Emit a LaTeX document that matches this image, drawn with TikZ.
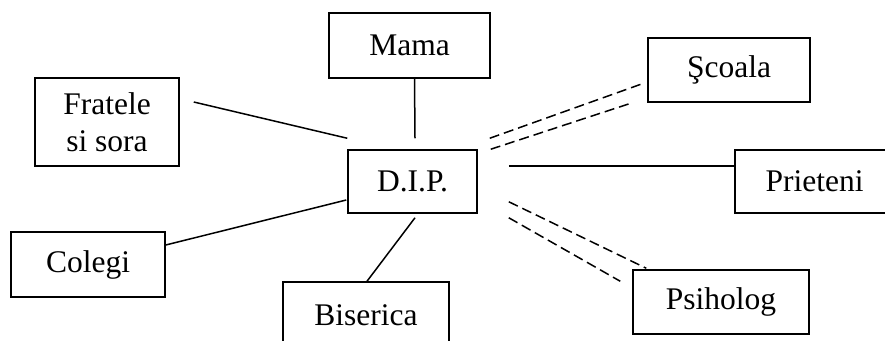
\documentclass[tikz,border=0pt]{standalone}
\usepackage{fontspec}
\setmainfont{Liberation Serif}
\usepackage{tikz}
\usetikzlibrary{calc}

\begin{document}
\begin{tikzpicture}[x=1pt,y=-1pt,
    box/.style={draw, line width=1.5pt, inner sep=0pt, align=center,
      font=\fontsize{31.5}{37}\selectfont},
    link/.style={line width=1.5pt},
    dlink/.style={line width=1.5pt, dash pattern=on 10pt off 5pt}]
      \useasboundingbox (0,0) rectangle (885,340);
      \clip (0,0) rectangle (885,340);
      \node[box, minimum width=144pt, minimum height=88pt] (fratele) at (107,122) {Fratele\\si sora};
      \node[box, minimum width=161pt, minimum height=65pt] (mama) at (409.5,45.5) {Mama};
      \node[box, minimum width=129pt, minimum height=63pt] (dip) at (412.5,181.5) {D.I.P.};
      \node[box, minimum width=162pt, minimum height=64pt] (scoala) at (729,70) {Şcoala};
      \node[box, minimum width=159pt, minimum height=63pt] (prieteni) at (814.5,181.5) {Prieteni};
      \node[box, minimum width=176pt, minimum height=64pt] (psiholog) at (721,302) {Psiholog};
      \node[box, minimum width=154pt, minimum height=65pt] (colegi) at (88,264.5) {Colegi};
      \node[box, minimum width=166pt, minimum height=66pt] (biserica) at (366,315) {Biserica};
      % solid links
      \draw[link] ([shift={(14,-20)}]fratele.east) -- ([shift={(0,-11)}]dip.north west);
      \draw[link] ([shift={(5,0)}]mama.south) -- ([shift={(2.5,-11)}]dip.north);
      \draw[link] ([shift={(31,-15.5)}]dip.east) -- ([shift={(0,-15.5)}]prieteni.west);
      \draw[link] ([shift={(0,-19.5)}]colegi.east) -- ([shift={(-1,18.5)}]dip.west);
      \draw[link] ([shift={(2.5,4)}]dip.south) -- ([shift={(1,0)}]biserica.north);
      % dashed double links
      \draw[dlink] ([shift={(12,-11)}]dip.north east) -- ([shift={(-5,-19)}]scoala.south west);
      \draw[dlink] ([shift={(13,0)}]dip.north east) -- ([shift={(-18,1)}]scoala.south west);
      \draw[dlink] ([shift={(31,-12)}]dip.south east) -- ([shift={(14,-1)}]psiholog.north west);
      \draw[dlink] ([shift={(31,4)}]dip.south east) -- ([shift={(-12,12)}]psiholog.north west);
\end{tikzpicture}
\end{document}
